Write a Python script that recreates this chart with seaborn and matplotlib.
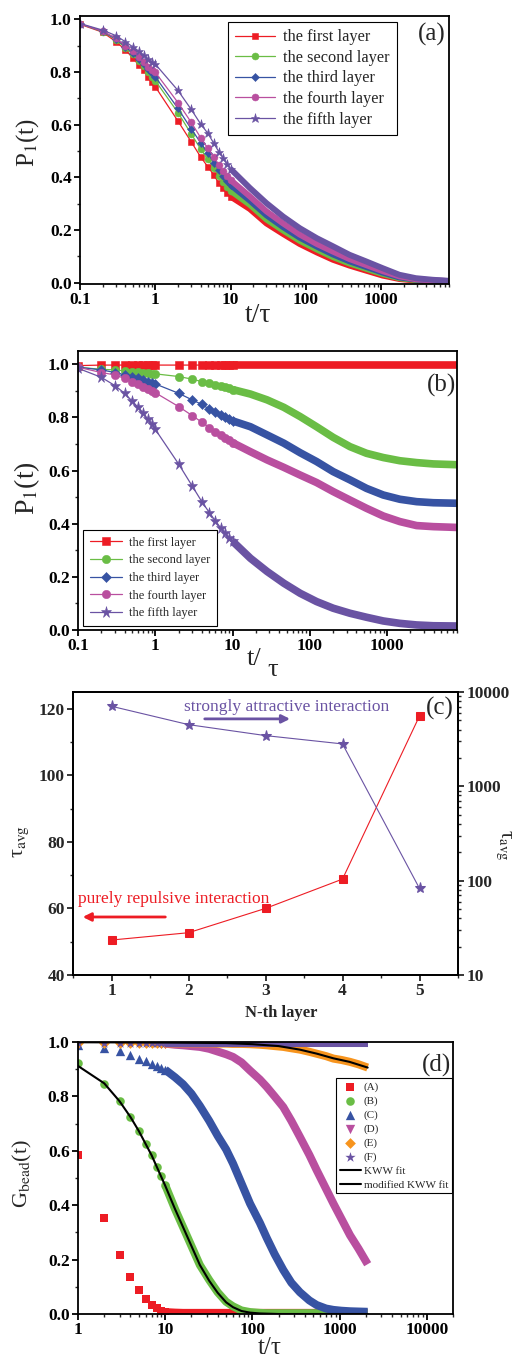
import numpy as np
import matplotlib
matplotlib.use("Agg")
import matplotlib.pyplot as plt
import matplotlib.ticker as mticker
import seaborn as sns

sns.set_theme(style="ticks")
plt.rcParams['font.family'] = ['Liberation Serif', 'DejaVu Serif']
plt.rcParams['mathtext.fontset'] = 'stix'
plt.rcParams['axes.linewidth'] = 1.3

RED = '#ed1c24'
GREEN = '#6abd45'
BLUE = '#3753a3'
PINK = '#b94f9f'
PURPLE = '#6a53a3'
ORANGE = '#f7941d'

layer_names = ['the first layer', 'the second layer', 'the third layer',
               'the fourth layer', 'the fifth layer']
layer_colors = [RED, GREEN, BLUE, PINK, PURPLE]
layer_markers = ['s', 'o', 'D', 'o', '*']

# ---- panel (a): purely repulsive ----
t_sparse = [0.1, 0.2, 0.3, 0.4, 0.5, 0.6, 0.7, 0.8, 0.9, 1.0,
            2, 3, 4, 5, 6, 7, 8, 9, 10]
a_first = [0.981, 0.951, 0.915, 0.884, 0.854, 0.827, 0.808, 0.782, 0.763, 0.744,
           0.614, 0.535, 0.478, 0.440, 0.409, 0.377, 0.358, 0.339, 0.327]
a_second = [0.983, 0.953, 0.922, 0.892, 0.867, 0.842, 0.823, 0.801, 0.782, 0.767,
            0.646, 0.565, 0.508, 0.468, 0.434, 0.405, 0.384, 0.365, 0.349]
a_third = [0.983, 0.954, 0.925, 0.896, 0.873, 0.849, 0.830, 0.810, 0.795, 0.782,
           0.662, 0.584, 0.532, 0.491, 0.456, 0.428, 0.405, 0.386, 0.371]
a_fourth = [0.983, 0.955, 0.928, 0.900, 0.880, 0.858, 0.839, 0.820, 0.808, 0.799,
            0.684, 0.609, 0.551, 0.510, 0.478, 0.447, 0.424, 0.405, 0.390]
a_fifth = [0.984, 0.959, 0.938, 0.915, 0.896, 0.880, 0.865, 0.849, 0.839, 0.830,
           0.730, 0.658, 0.603, 0.567, 0.529, 0.497, 0.472, 0.449, 0.432]

t_a_dense = [10, 18, 30, 50, 83, 140, 230, 380, 630, 1050, 1750, 2900, 4850, 8000]
a_first_dense = [0.327, 0.280, 0.225, 0.185, 0.147, 0.115, 0.087, 0.065, 0.046, 0.027, 0.014, 0.008, 0.006, 0.005]
a_second_dense = [0.349, 0.296, 0.240, 0.198, 0.159, 0.126, 0.097, 0.073, 0.053, 0.033, 0.017, 0.010, 0.007, 0.005]
a_third_dense = [0.371, 0.312, 0.256, 0.211, 0.171, 0.137, 0.107, 0.081, 0.060, 0.038, 0.020, 0.012, 0.008, 0.006]
a_fourth_dense = [0.390, 0.328, 0.271, 0.225, 0.183, 0.147, 0.118, 0.090, 0.067, 0.044, 0.024, 0.013, 0.009, 0.006]
a_fifth_dense = [0.432, 0.360, 0.302, 0.251, 0.207, 0.169, 0.138, 0.106, 0.081, 0.055, 0.030, 0.017, 0.011, 0.007]

# ---- panel (b): strongly attractive ----
b_first = [0.995, 0.997, 0.997, 0.997, 0.997, 0.997, 0.997, 0.997, 0.997, 0.997,
           0.997, 0.997, 0.997, 0.997, 0.997, 0.997, 0.997, 0.997, 0.997]
b_second = [0.989, 0.981, 0.979, 0.975, 0.972, 0.970, 0.969, 0.966, 0.965, 0.964,
            0.954, 0.944, 0.935, 0.928, 0.923, 0.918, 0.913, 0.910, 0.905]
b_third = [0.989, 0.979, 0.969, 0.960, 0.954, 0.947, 0.941, 0.935, 0.931, 0.926,
           0.891, 0.866, 0.849, 0.831, 0.819, 0.809, 0.800, 0.793, 0.787]
b_fourth = [0.989, 0.969, 0.960, 0.947, 0.935, 0.925, 0.916, 0.907, 0.901, 0.893,
            0.841, 0.807, 0.782, 0.762, 0.747, 0.734, 0.724, 0.715, 0.705]
b_fifth = [0.985, 0.951, 0.920, 0.891, 0.862, 0.838, 0.816, 0.793, 0.775, 0.755,
           0.625, 0.542, 0.483, 0.442, 0.410, 0.385, 0.364, 0.348, 0.334]

t_b_dense = [10, 17, 28, 46, 75, 122, 200, 330, 540, 890, 1460, 2400, 3950, 8000]
b_first_dense = [0.997, 0.997, 0.997, 0.997, 0.997, 0.997, 0.997, 0.997, 0.997, 0.997, 0.997, 0.997, 0.997, 0.997]
b_second_dense = [0.905, 0.888, 0.866, 0.838, 0.803, 0.765, 0.725, 0.690, 0.665, 0.649, 0.637, 0.630, 0.625, 0.622]
b_third_dense = [0.787, 0.765, 0.734, 0.703, 0.667, 0.634, 0.596, 0.565, 0.533, 0.508, 0.492, 0.483, 0.479, 0.477]
b_fourth_dense = [0.705, 0.671, 0.640, 0.612, 0.583, 0.555, 0.521, 0.489, 0.458, 0.429, 0.408, 0.393, 0.389, 0.386]
b_fifth_dense = [0.334, 0.270, 0.220, 0.176, 0.138, 0.107, 0.082, 0.063, 0.048, 0.034, 0.025, 0.019, 0.016, 0.015]

# ---- panel (c): average relaxation time per layer ----
layers = [1, 2, 3, 4, 5]
tau_repulsive = [50.5, 52.7, 60.0, 68.8, 117.8]
tau_attractive = [7060, 4510, 3450, 2816, 82.7]

# ---- panel (d): bead correlation ----
case_names = ['(A)', '(B)', '(C)', '(D)', '(E)', '(F)']
t_d_sparse = [1, 2, 3, 4, 5, 6, 7, 8, 9, 10]
d_A = [0.584, 0.354, 0.218, 0.136, 0.087, 0.055, 0.033, 0.021, 0.012, 0.007]
d_B = [0.923, 0.847, 0.782, 0.725, 0.673, 0.624, 0.584, 0.541, 0.507, 0.474]
d_C = [0.988, 0.979, 0.966, 0.951, 0.939, 0.930, 0.920, 0.912, 0.905, 0.898]
d_D = [0.997, 0.997, 0.996, 0.996, 0.996, 0.995, 0.995, 0.995, 0.994, 0.994]
d_E = [0.997, 0.997, 0.997, 0.996, 0.996, 0.996, 0.996, 0.995, 0.995, 0.995]
d_F = [0.998, 0.998, 0.998, 0.998, 0.998, 0.998, 0.998, 0.998, 0.998, 0.998]

t_d_dense = [10, 13, 16, 20, 25, 32, 40, 50, 60, 75, 94, 122, 146, 180, 226,
             280, 351, 450, 546, 700, 850, 1050, 1316, 1650, 2100]
d_A_dense = [0.007, 0.005, 0.004, 0.004, 0.004, 0.004, 0.004, 0.004, 0.004, 0.004, 0.004, 0.004, 0.004,
             0.004, 0.004, 0.004, 0.004, 0.004, 0.004, 0.004, 0.004, 0.004, 0.004, 0.004, 0.004]
d_B_dense = [0.474, 0.385, 0.320, 0.250, 0.180, 0.125, 0.080, 0.045, 0.028, 0.013, 0.007, 0.004, 0.003,
             0.003, 0.003, 0.003, 0.003, 0.003, 0.003, 0.003, 0.003, 0.003, 0.003, 0.003, 0.003]
d_C_dense = [0.898, 0.870, 0.845, 0.810, 0.765, 0.710, 0.655, 0.605, 0.553, 0.480, 0.406, 0.335, 0.280,
             0.220, 0.162, 0.115, 0.080, 0.050, 0.033, 0.020, 0.015, 0.012, 0.010, 0.009, 0.008]
d_D_dense = [0.994, 0.990, 0.988, 0.985, 0.982, 0.975, 0.965, 0.955, 0.945, 0.925, 0.895, 0.862, 0.835,
             0.800, 0.761, 0.710, 0.651, 0.585, 0.529, 0.460, 0.406, 0.350, 0.290, 0.240, 0.183]
d_E_dense = [0.995, 0.995, 0.995, 0.995, 0.995, 0.995, 0.994, 0.994, 0.993, 0.993, 0.992, 0.990, 0.988,
             0.985, 0.982, 0.977, 0.972, 0.964, 0.957, 0.948, 0.939, 0.934, 0.927, 0.918, 0.906]
d_F_dense = [0.998, 0.998, 0.998, 0.998, 0.998, 0.998, 0.998, 0.998, 0.998, 0.998, 0.998, 0.998, 0.998,
             0.998, 0.998, 0.998, 0.998, 0.998, 0.998, 0.998, 0.998, 0.998, 0.998, 0.998, 0.998]

t_kww = [1, 2, 3, 4, 5, 7, 10, 13, 16, 20, 25, 32, 40, 50, 60, 75, 94, 122, 200, 500, 2100]
kww_fit = [0.912, 0.848, 0.782, 0.724, 0.672, 0.583, 0.472, 0.385, 0.320, 0.250, 0.180, 0.122,
           0.078, 0.043, 0.025, 0.011, 0.005, 0.002, 0.0, 0.0, 0.0]
t_mkww = [1, 10, 50, 100, 200, 350, 550, 850, 1300, 2100]
mkww_fit = [0.999, 0.998, 0.996, 0.992, 0.985, 0.972, 0.957, 0.940, 0.927, 0.906]

W, H = 518, 1358
fig = plt.figure(figsize=(W / 100, H / 100), dpi=100)


def box(l, t, r, b):
    return [l / W, 1 - b / H, (r - l) / W, (b - t) / H]


def px(x, y):
    return x / W, 1 - y / H


TICK_FS = 12.5


def style_p_axes(ax, xticks, xlim, ylim):
    ax.set_xscale('log')
    ax.set_xlim(*xlim)
    ax.set_ylim(*ylim)
    ax.set_xticks(xticks, [f'{v:g}' for v in xticks], fontweight='bold', fontsize=TICK_FS)
    yt = [0.0, 0.2, 0.4, 0.6, 0.8, 1.0]
    ax.set_yticks(yt, [f'{v:.1f}' for v in yt], fontweight='bold', fontsize=TICK_FS)
    ax.yaxis.set_minor_locator(mticker.MultipleLocator(0.1))
    ax.xaxis.set_minor_locator(mticker.LogLocator(base=10, subs=np.arange(2, 10), numticks=20))
    ax.xaxis.set_minor_formatter(mticker.NullFormatter())
    ax.tick_params(which='major', direction='out', length=4, width=1.3, pad=2, colors='black')
    ax.tick_params(which='minor', direction='out', length=2.5, width=1.0)
    ax.set_xlabel('')
    ax.set_ylabel('')
    for s in ax.spines.values():
        s.set_color('black')
        s.set_linewidth(1.3)


def plot_layers(ax, sparse_sets, dense_t, dense_sets, ms, lw_dense):
    handles = []
    for col, mk, ys, yd in zip(layer_colors, layer_markers, sparse_sets, dense_sets):
        size = ms * 1.35 if mk == '*' else (ms * 0.9 if mk == 'D' else ms)
        sns.lineplot(x=t_sparse, y=ys, color=col, marker=mk, markersize=size,
                     markeredgecolor=col, markeredgewidth=0.4, linewidth=0.9,
                     errorbar=None, ax=ax)
        handles.append(ax.lines[-1])
        sns.lineplot(x=dense_t, y=yd, color=col, linewidth=lw_dense,
                     solid_capstyle='butt', solid_joinstyle='round',
                     errorbar=None, ax=ax)
    return handles


# ---------------- (a) ----------------
ax_a = fig.add_axes(box(80, 16, 449, 284))
h_a = plot_layers(ax_a, [a_first, a_second, a_third, a_fourth, a_fifth], t_a_dense,
                  [a_first_dense, a_second_dense, a_third_dense, a_fourth_dense, a_fifth_dense],
                  5, 4.3)
style_p_axes(ax_a, [0.1, 1, 10, 100, 1000], (0.1, 8000), (-0.005, 1.0125))
leg = ax_a.legend(h_a, layer_names, loc='upper left', bbox_to_anchor=(0.401, 0.978),
                  borderaxespad=0, fontsize=11.8, frameon=True, fancybox=False,
                  edgecolor='black', handlelength=2.4, handletextpad=0.5,
                  labelspacing=0.28, borderpad=0.45, framealpha=1)
leg.get_frame().set_linewidth(0.8)
ax_a.text(0.953, 0.93, '(a)', transform=ax_a.transAxes, fontsize=18, ha='center', va='center')
fig.text(*px(28, 143), 'P$_1$(t)', rotation=90, fontsize=18, ha='center', va='center')
fig.text(*px(258, 315), 't/τ', fontsize=20, ha='center', va='center')

# ---------------- (b) ----------------
ax_b = fig.add_axes(box(78, 351, 457, 630))
h_b = plot_layers(ax_b, [b_first, b_second, b_third, b_fourth, b_fifth], t_b_dense,
                  [b_first_dense, b_second_dense, b_third_dense, b_fourth_dense, b_fifth_dense],
                  6, 5.5)
style_p_axes(ax_b, [0.1, 1, 10, 100, 1000], (0.1, 8000), (0.0, 1.05))
leg = ax_b.legend(h_b, layer_names, loc='lower left', bbox_to_anchor=(0.013, 0.014),
                  borderaxespad=0, fontsize=9, frameon=True, fancybox=False,
                  edgecolor='black', handlelength=2.6, handletextpad=0.5,
                  labelspacing=0.45, borderpad=0.55, framealpha=1)
leg.get_frame().set_linewidth(0.8)
ax_b.text(0.958, 0.875, '(b)', transform=ax_b.transAxes, fontsize=18, ha='center', va='center')
fig.text(*px(27, 488), 'P$_1$(t)', rotation=90, fontsize=20, ha='center', va='center')
fig.text(*px(254, 659), 't/', fontsize=19, ha='center', va='center')
fig.text(*px(273, 670), 'τ', fontsize=19, ha='center', va='center')

# ---------------- (c) ----------------
ax_c = fig.add_axes(box(73, 692, 458, 975))
sns.lineplot(x=layers, y=tau_repulsive, color=RED, marker='s', markersize=6,
             markeredgecolor=RED, linewidth=0.8, errorbar=None, ax=ax_c)
ax_c.set_xlim(0.5, 5.5)
ax_c.set_ylim(40, 125)
ax_c.set_xticks(layers, [str(v) for v in layers], fontweight='bold', fontsize=TICK_FS)
yt = [40, 60, 80, 100, 120]
ax_c.set_yticks(yt, [str(v) for v in yt], fontweight='bold', fontsize=TICK_FS)
ax_c.xaxis.set_minor_locator(mticker.MultipleLocator(0.5))
ax_c.yaxis.set_minor_locator(mticker.MultipleLocator(10))
ax_c.tick_params(which='major', direction='out', length=4, width=1.3, pad=2, right=False)
ax_c.tick_params(which='minor', direction='out', length=2.5, width=1.0, right=False)
ax_c.set_xlabel('')
ax_c.set_ylabel('')

ax_c2 = ax_c.twinx()
sns.lineplot(x=layers, y=tau_attractive, color=PURPLE, marker='*', markersize=8,
             markeredgecolor=PURPLE, linewidth=0.8, errorbar=None, ax=ax_c2)
ax_c2.set_yscale('log')
ax_c2.set_ylim(10, 10000)
rt = [10, 100, 1000, 10000]
ax_c2.set_yticks(rt, [str(v) for v in rt], fontweight='bold', fontsize=TICK_FS)
ax_c2.yaxis.set_minor_locator(mticker.LogLocator(base=10, subs=np.arange(2, 10), numticks=20))
ax_c2.yaxis.set_minor_formatter(mticker.NullFormatter())
ax_c2.tick_params(which='major', direction='out', length=4, width=1.3, pad=2)
ax_c2.tick_params(which='minor', direction='out', length=2.5, width=1.0)
ax_c2.set_ylabel('')
for a in (ax_c, ax_c2):
    for s in a.spines.values():
        s.set_color('black')
        s.set_linewidth(1.3)

ax_c2.text(0.555, 0.947, 'strongly attractive interaction', transform=ax_c2.transAxes,
           color=PURPLE, fontsize=12.5, ha='center', va='center')
ax_c2.annotate('', xy=(0.571, 0.905), xytext=(0.335, 0.905), xycoords='axes fraction',
               arrowprops=dict(arrowstyle='-|>', color=PURPLE, lw=2, mutation_scale=12))
ax_c2.text(0.261, 0.269, 'purely repulsive interaction', transform=ax_c2.transAxes,
           color=RED, fontsize=12.5, ha='center', va='center')
ax_c2.annotate('', xy=(0.018, 0.205), xytext=(0.247, 0.205), xycoords='axes fraction',
               arrowprops=dict(arrowstyle='-|>', color=RED, lw=2, mutation_scale=12))
ax_c2.text(0.953, 0.943, '(c)', transform=ax_c2.transAxes, fontsize=18, ha='center', va='center')
fig.text(*px(21, 841), 'τ$_{\\rm avg}$', rotation=90, fontsize=16, ha='center', va='center')
fig.text(*px(503, 845), 'τ$_{\\rm avg}$', rotation=270, fontsize=15, ha='center', va='center')
fig.text(*px(281, 1013), 'N-th layer', fontsize=12, fontweight='bold', ha='center', va='center')

# ---------------- (d) ----------------
ax_d = fig.add_axes(box(78, 1042, 453, 1314))
d_colors = [RED, GREEN, BLUE, PINK, ORANGE, PURPLE]
d_markers = ['s', 'o', '^', 'v', 'D', '*']
d_sizes = [30, 38, 45, 45, 30, 60]
d_handles = []
for col, mk, sz, ys, yd in zip(d_colors, d_markers, d_sizes,
                               [d_A, d_B, d_C, d_D, d_E, d_F],
                               [d_A_dense, d_B_dense, d_C_dense, d_D_dense, d_E_dense, d_F_dense]):
    sns.lineplot(x=t_d_dense, y=yd, color=col, linewidth=5.8, solid_capstyle='butt',
                 solid_joinstyle='round', errorbar=None, ax=ax_d)
    sns.scatterplot(x=t_d_sparse, y=ys, color=col, marker=mk, s=sz, linewidth=0, ax=ax_d)
    d_handles.append(ax_d.collections[-1])
sns.lineplot(x=t_kww, y=kww_fit, color='black', linewidth=1.5, errorbar=None, ax=ax_d)
h_kww = ax_d.lines[-1]
sns.lineplot(x=t_mkww, y=mkww_fit, color='black', linewidth=1.5, errorbar=None, ax=ax_d)
h_mkww = ax_d.lines[-1]
style_p_axes(ax_d, [1, 10, 100, 1000, 10000], (1, 20000), (0.0, 1.0))
leg = ax_d.legend(d_handles + [h_kww, h_mkww], case_names + ['KWW fit', 'modified KWW fit'],
                  loc='upper left', bbox_to_anchor=(0.688, 0.868), borderaxespad=0,
                  fontsize=8, frameon=True, fancybox=False, edgecolor='black',
                  handlelength=1.9, handletextpad=0.25, labelspacing=0.36, borderpad=0.35,
                  framealpha=1, scatterpoints=1)
leg.get_frame().set_linewidth(0.8)
ax_d.text(0.955, 0.915, '(d)', transform=ax_d.transAxes, fontsize=18, ha='center', va='center')
fig.text(*px(22, 1174), 'G$_{\\rm bead}$(t)', rotation=90, fontsize=16, ha='center', va='center')
fig.text(*px(270, 1348), 't/τ', fontsize=18, ha='center', va='center')

fig.savefig('out.png', dpi=100)
